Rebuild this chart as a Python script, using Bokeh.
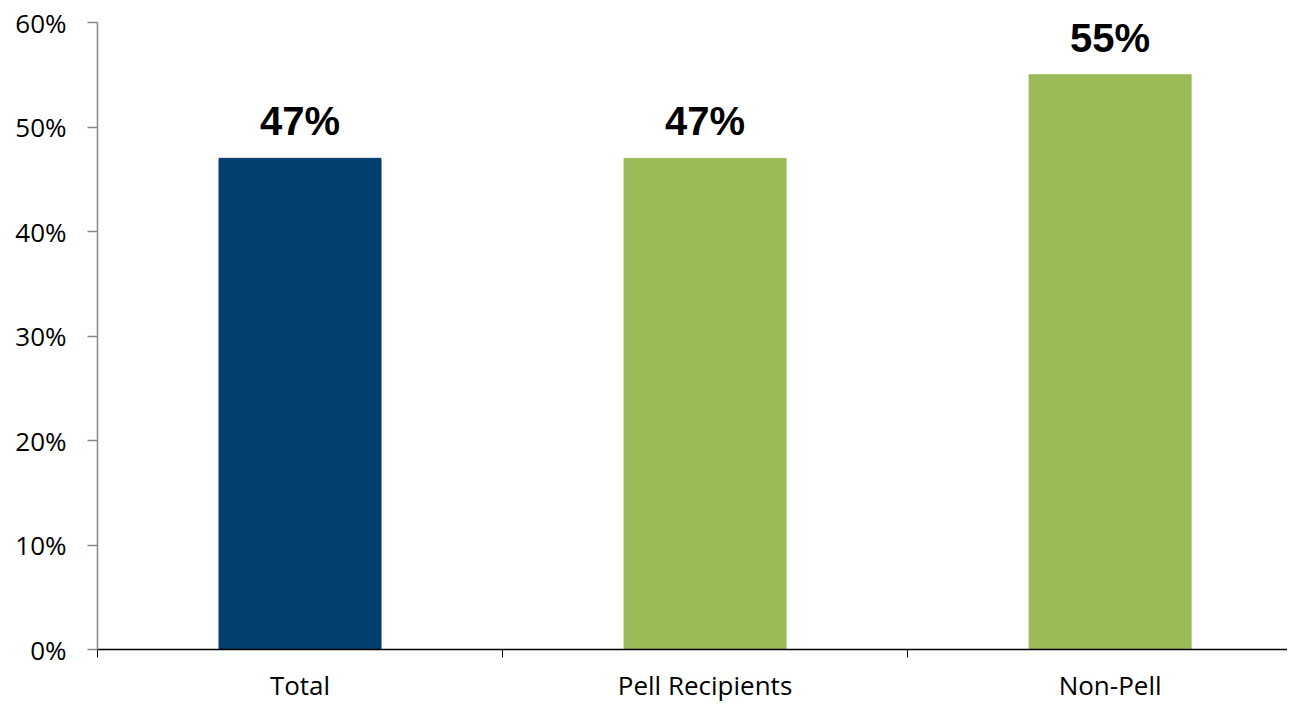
from bokeh.plotting import figure
from bokeh.models import Range1d, FixedTicker, ColumnDataSource, LabelSet, NumeralTickFormatter
from bokeh.core.properties import value
from bokeh.embed import file_html
from bokeh.resources import INLINE

categories = ["Total", "Pell Recipients", "Non-Pell"]
values = [0.47, 0.47, 0.55]
labels = ["47%", "47%", "55%"]
colors = ["#003F6E", "#9BBB59", "#9BBB59"]

xs = [i + 0.5 for i in range(len(categories))]
src = ColumnDataSource(dict(x=xs, top=values, label=labels, color=colors))

p = figure(width=1287, height=705, output_backend="svg", toolbar_location=None,
           x_range=Range1d(0, 2.938), y_range=Range1d(0, 0.6),
           min_border_left=97, min_border_right=0, min_border_top=22, min_border_bottom=55)
p.outline_line_color = None
p.xgrid.grid_line_color = None
p.ygrid.grid_line_color = None

p.vbar(x="x", top="top", width=0.4, color="color", source=src)

p.add_layout(LabelSet(x="x", y="top", text="label", source=src, text_align="center",
                      text_baseline="alphabetic", y_offset=23, text_font=value("Liberation Sans"),
                      text_font_style="bold", text_font_size="40px", text_color="black"))

p.xaxis.ticker = FixedTicker(ticks=xs, minor_ticks=[0, 1, 2, 3])
p.xaxis.major_label_overrides = {x: c for x, c in zip(xs, categories)}
p.xaxis.major_tick_line_color = None
p.xaxis.minor_tick_out = 8
p.xaxis.minor_tick_in = 0
p.xaxis.minor_tick_line_color = "black"
p.xaxis.axis_line_color = "black"
p.xaxis.axis_line_width = 1.5
p.xaxis.major_label_text_font = "Open Sans"
p.xaxis.major_label_text_font_size = "26px"
p.xaxis.major_label_text_color = "black"
p.xaxis.major_label_standoff = 9

p.yaxis.ticker = FixedTicker(ticks=[0, 0.1, 0.2, 0.3, 0.4, 0.5, 0.6])
p.yaxis.formatter = NumeralTickFormatter(format="0%")
p.yaxis.axis_line_color = "#868686"
p.yaxis.axis_line_width = 1.5
p.yaxis.major_tick_line_color = "#868686"
p.yaxis.major_tick_line_width = 1.5
p.yaxis.major_tick_out = 10
p.yaxis.major_tick_in = 0
p.yaxis.minor_tick_line_color = None
p.yaxis.major_label_text_font = "Open Sans"
p.yaxis.major_label_text_font_size = "26px"
p.yaxis.major_label_text_color = "black"
p.yaxis.major_label_standoff = 21

open("out.html", "w").write(file_html(p, INLINE))
